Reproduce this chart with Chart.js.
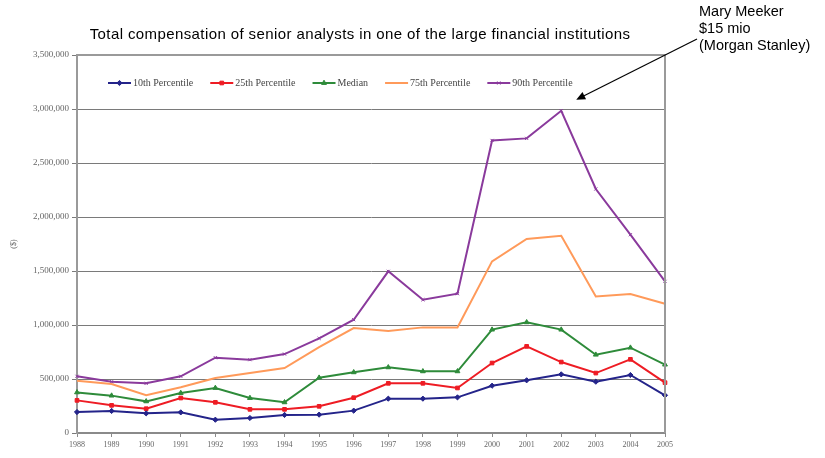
<!DOCTYPE html>
<html>
<head>
<meta charset="utf-8">
<script src="https://cdn.jsdelivr.net/npm/chart.js@4.4.0/dist/chart.umd.min.js"></script>
<style>
  html, body { margin: 0; padding: 0; background: #ffffff; }
  #wrap { width: 825px; height: 458px; }
</style>
</head>
<body>
<div id="wrap"><canvas id="c" width="825" height="458"></canvas></div>
<script>
// Years on the horizontal axis
const years = ['1988','1989','1990','1991','1992','1993','1994','1995','1996',
               '1997','1998','1999','2000','2001','2002','2003','2004','2005'];

// Total compensation per percentile ($)
const p10 = [194000, 204000, 182000, 191000, 123000, 139000, 167000, 170000, 207000,
             318000, 318000, 330000, 438000, 488000, 543000, 475000, 537000, 349000];
const p25 = [302000, 256000, 225000, 324000, 284000, 219000, 219000, 247000, 327000,
             460000, 460000, 417000, 648000, 802000, 657000, 555000, 682000, 466000];
const median = [376000, 346000, 293000, 370000, 417000, 324000, 284000, 512000, 562000,
                608000, 571000, 571000, 957000, 1025000, 957000, 725000, 790000, 633000];
const p75 = [484000, 454000, 349000, 423000, 509000, 555000, 602000, 796000, 972000,
             945000, 978000, 978000, 1589000, 1796000, 1827000, 1265000, 1287000, 1197000];
const p90 = [525000, 475000, 460000, 525000, 697000, 679000, 731000, 876000, 1049000,
             1497000, 1234000, 1290000, 2709000, 2728000, 2984000, 2259000, 1836000, 1404000];

// Series names and value-axis ticks
const seriesNames = ['10th Percentile', '25th Percentile', 'Median', '75th Percentile', '90th Percentile'];
const yTicks = [0, 500000, 1000000, 1500000, 2000000, 2500000, 3000000, 3500000];

const titleText = 'Total compensation of senior analysts in one of the large financial institutions';
const noteLines = ['Mary Meeker', '$15 mio', '(Morgan Stanley)'];

const colors = ['#24248a', '#ee1c24', '#2e8b3a', '#ff9a5a', '#8a3a9c'];
const markers = ['rectRot', 'rect', 'triangle', 'circle', 'crossRot'];
const markerSize = [2.6, 2.6, 2.8, 0, 2.2];
const seriesData = [p10, p25, median, p75, p90];

const datasets = seriesData.map((d, i) => ({
  label: seriesNames[i],
  data: d,
  borderColor: colors[i],
  backgroundColor: colors[i],
  borderWidth: 2,
  pointStyle: markers[i],
  pointRadius: markerSize[i],
  pointBorderWidth: 1,
  tension: 0
}));

const fmt = v => v.toLocaleString('en-US');

// Title, annotation arrow, in-plot legend and plot frame
const decorations = {
  id: 'decorations',
  afterDraw(chart) {
    const ctx = chart.ctx;
    const area = chart.chartArea;
    const xs = chart.scales.x, ys = chart.scales.y;
    ctx.save();

    // frame on the top and right of the plot area
    ctx.strokeStyle = '#9a9a9a';
    ctx.lineWidth = 2;
    ctx.beginPath();
    ctx.moveTo(area.left, area.top);
    ctx.lineTo(area.right, area.top);
    ctx.lineTo(area.right, area.bottom);
    ctx.stroke();

    // title
    ctx.fillStyle = '#000';
    ctx.font = "15px 'Liberation Sans', Arial, sans-serif";
    if ('letterSpacing' in ctx) ctx.letterSpacing = '0.4px';
    ctx.textAlign = 'center';
    ctx.textBaseline = 'middle';
    ctx.fillText(titleText, 360, 35);
    if ('letterSpacing' in ctx) ctx.letterSpacing = '0px';

    // annotation text
    ctx.font = "14.5px 'Liberation Sans', Arial, sans-serif";
    ctx.textAlign = 'left';
    noteLines.forEach((t, i) => ctx.fillText(t, 699, 12 + i * 17));

    // arrow pointing at the 90th percentile peak
    const peakIdx = p90.indexOf(Math.max(...p90));
    const tx = xs.getPixelForValue(peakIdx) + 15;
    const ty = ys.getPixelForValue(p90[peakIdx]) - 11;
    const sx = 697, sy = 39;
    const ang = Math.atan2(ty - sy, tx - sx);
    ctx.strokeStyle = '#000';
    ctx.lineWidth = 1.2;
    ctx.beginPath();
    ctx.moveTo(sx, sy);
    ctx.lineTo(tx - 6 * Math.cos(ang), ty - 6 * Math.sin(ang));
    ctx.stroke();
    ctx.beginPath();
    ctx.moveTo(tx, ty);
    ctx.lineTo(tx - 9 * Math.cos(ang) + 4 * Math.sin(ang), ty - 9 * Math.sin(ang) - 4 * Math.cos(ang));
    ctx.lineTo(tx - 9 * Math.cos(ang) - 4 * Math.sin(ang), ty - 9 * Math.sin(ang) + 4 * Math.cos(ang));
    ctx.closePath();
    ctx.fillStyle = '#000';
    ctx.fill();

    // legend inside the plot area
    ctx.font = "10px 'Liberation Serif', 'Times New Roman', serif";
    ctx.textBaseline = 'middle';
    let x = 108;
    const y = area.top + 28;
    chart.data.datasets.forEach((ds) => {
      ctx.strokeStyle = ds.borderColor;
      ctx.lineWidth = 2;
      ctx.beginPath();
      ctx.moveTo(x, y);
      ctx.lineTo(x + 23, y);
      ctx.stroke();
      if (ds.pointRadius > 0) {
        ctx.fillStyle = ds.backgroundColor;
        ctx.strokeStyle = ds.borderColor;
        ctx.lineWidth = 1;
        Chart.helpers.drawPoint(ctx, {
          pointStyle: ds.pointStyle, radius: ds.pointRadius, rotation: 0, borderWidth: 1
        }, x + 11.5, y);
      }
      ctx.fillStyle = '#444';
      ctx.fillText(ds.label, x + 25, y);
      x += 25 + ctx.measureText(ds.label).width + 17;
    });

    ctx.restore();
  }
};

new Chart(document.getElementById('c'), {
  type: 'line',
  data: { labels: years, datasets },
  options: {
    responsive: false,
    animation: false,
    layout: { padding: { left: 7, top: 55, right: 160, bottom: 0 } },
    plugins: {
      legend: { display: false },
      title: { display: false },
      tooltip: { enabled: false }
    },
    scales: {
      x: {
        type: 'category',
        offset: false,
        afterFit(scale) { scale.height = 25; },
        grid: { drawOnChartArea: false, drawTicks: true, tickLength: 4, color: '#8a8a8a' },
        border: { display: true, color: '#8a8a8a', width: 2 },
        ticks: {
          autoSkip: false, maxRotation: 0, padding: 3,
          color: '#666',
          font: { family: "'Liberation Serif', 'Times New Roman', serif", size: 8 }
        }
      },
      y: {
        min: 0,
        max: 3500000,
        afterFit(scale) { scale.width = 70; },
        afterBuildTicks(scale) { scale.ticks = yTicks.map(v => ({ value: v })); },
        grid: { color: '#7a7a7a', lineWidth: 1, drawTicks: true, tickLength: 5 },
        border: { display: true, color: '#9a9a9a', width: 2 },
        title: {
          display: true, text: '($)', color: '#666', padding: 2,
          font: { family: "'Liberation Serif', 'Times New Roman', serif", size: 8 }
        },
        ticks: {
          padding: 3,
          color: '#666',
          font: { family: "'Liberation Serif', 'Times New Roman', serif", size: 9 },
          callback: v => fmt(v)
        }
      }
    }
  },
  plugins: [decorations]
});
</script>
</body>
</html>
